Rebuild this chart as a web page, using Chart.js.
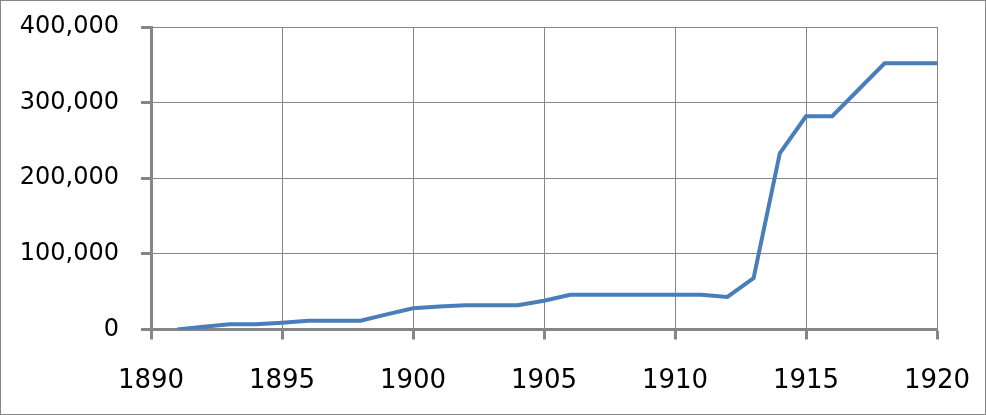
<!DOCTYPE html>
<html>
<head>
<meta charset="utf-8">
<script src="https://cdn.jsdelivr.net/npm/chart.js@4/dist/chart.umd.min.js"></script>
<style>
  html, body { margin: 0; padding: 0; background: #fff; }
  canvas { display: block; }
</style>
</head>
<body>
<canvas id="chart" width="986" height="415"></canvas>
<script>
// data
const years = [1891, 1892, 1893, 1894, 1895, 1896, 1897, 1898, 1899, 1900,
  1901, 1902, 1903, 1904, 1905, 1906, 1907, 1908, 1909, 1910,
  1911, 1912, 1913, 1914, 1915, 1916, 1917, 1918, 1919, 1920];
const values = [0, 3500, 7000, 7000, 9000, 11500, 11500, 11500, 20000, 28000,
  30500, 32000, 32000, 32000, 38000, 46000, 46000, 46000, 46000, 46000,
  46000, 43000, 68000, 233000, 282000, 282000, 317000, 352000, 352000, 352000];
const xTicks = [1890, 1895, 1900, 1905, 1910, 1915, 1920];
const yTicks = [0, 100000, 200000, 300000, 400000];

const gray = "#868686";

// frame around the whole picture
const framePlugin = {
  id: "frame",
  afterDraw(chart) {
    const ctx = chart.ctx;
    ctx.save();
    ctx.strokeStyle = gray;
    ctx.lineWidth = 1;
    ctx.strokeRect(0.5, 0.5, chart.width - 1, chart.height - 1);
    ctx.restore();
  },
};

const points = years.map((y, i) => ({ x: y, y: values[i] }));

new Chart(document.getElementById("chart"), {
  type: "line",
  data: {
    datasets: [
      {
        data: points,
        borderColor: "#4a7ebb",
        borderWidth: 4,
        pointRadius: 0,
        tension: 0,
        fill: false,
      },
    ],
  },
  options: {
    responsive: false,
    animation: false,
    devicePixelRatio: 1,
    layout: { padding: { top: 27, right: 49, left: 0, bottom: 0 } },
    plugins: {
      legend: { display: false },
      tooltip: { enabled: false },
    },
    scales: {
      x: {
        type: "linear",
        min: xTicks[0],
        max: xTicks[xTicks.length - 1],
        afterBuildTicks: (axis) => {
          axis.ticks = xTicks.map((v) => ({ value: v }));
        },
        afterFit: (axis) => {
          axis.height = 85.5;
          axis.paddingLeft = 0;
          axis.paddingRight = 0;
        },
        grid: {
          color: gray,
          lineWidth: 1,
          tickLength: 10,
          tickWidth: 3,
          tickColor: gray,
        },
        border: { color: gray, width: 3 },
        ticks: {
          color: "#000",
          padding: 26,
          maxRotation: 0,
          font: { family: "DejaVu Sans", size: 26 },
          callback: (v) => String(v),
        },
      },
      y: {
        min: yTicks[0],
        max: yTicks[yTicks.length - 1],
        afterBuildTicks: (axis) => {
          axis.ticks = yTicks.map((v) => ({ value: v }));
        },
        afterFit: (axis) => {
          axis.width = 151;
          axis.paddingTop = 0;
          axis.paddingBottom = 0;
        },
        grid: {
          color: gray,
          lineWidth: 1,
          tickLength: 10,
          tickWidth: 3,
          tickColor: gray,
        },
        border: { color: gray, width: 3 },
        ticks: {
          color: "#000",
          padding: 22,
          font: { family: "DejaVu Sans", size: 24 },
          callback: (v) => v.toLocaleString("en-US"),
        },
      },
    },
  },
  plugins: [framePlugin],
});
</script>
</body>
</html>
